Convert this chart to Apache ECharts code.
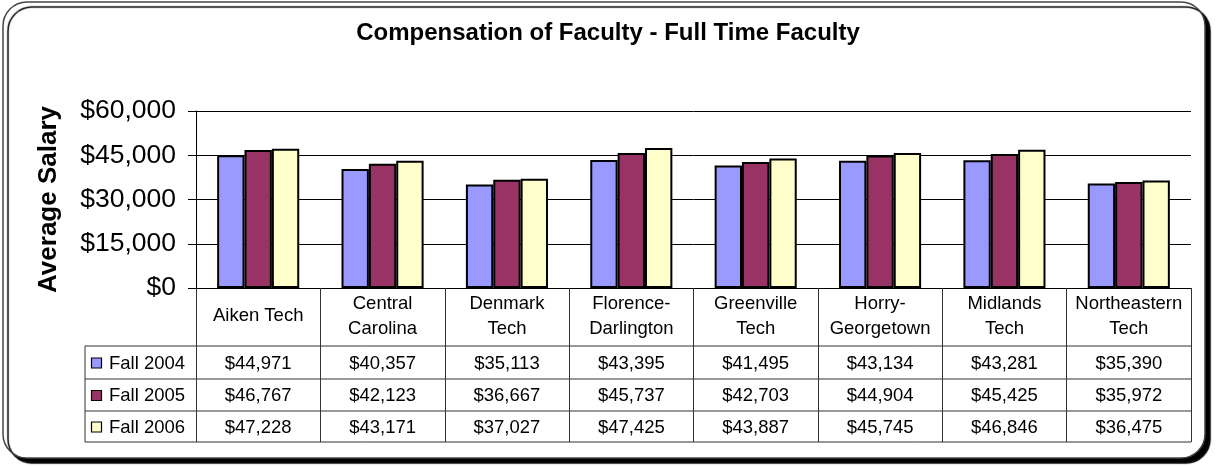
<!DOCTYPE html>
<html>
<head>
<meta charset="utf-8">
<script src="https://cdn.jsdelivr.net/npm/echarts@6/dist/echarts.min.js"></script>
<style>
html, body { margin: 0; padding: 0; background: #fff; }
#chart { width: 1216px; height: 467px; }
</style>
</head>
<body>
<div id="chart"></div>
<script>
// data
const categories = ['Aiken Tech', 'Central\nCarolina', 'Denmark\nTech', 'Florence-\nDarlington',
  'Greenville\nTech', 'Horry-\nGeorgetown', 'Midlands\nTech', 'Northeastern\nTech'];
const seriesNames = ['Fall 2004', 'Fall 2005', 'Fall 2006'];
const fall2004 = [44971, 40357, 35113, 43395, 41495, 43134, 43281, 35390];
const fall2005 = [46767, 42123, 36667, 45737, 42703, 44904, 45425, 35972];
const fall2006 = [47228, 43171, 37027, 47425, 43887, 45745, 46846, 36475];
const yTicks = [0, 15000, 30000, 45000, 60000];

const colors = ['#9999ff', '#993366', '#ffffcc'];
const font = 'Arial, "Liberation Sans", sans-serif';
const money = v => '$' + v.toLocaleString('en-US');

// table layout
const tableLeft = 85, tableRight = 1191;
const rowLines = [346, 379, 411, 442];

let myChart = echarts.init(document.getElementById('chart'));
let allData = [fall2004, fall2005, fall2006];

let option = {
  animation: false,
  textStyle: { fontFamily: font },
  title: {
    text: 'Compensation of Faculty - Full Time Faculty',
    left: 'center',
    top: 21,
    padding: 0,
    textStyle: { fontSize: 24, fontWeight: 'bold', color: '#000', fontFamily: font }
  },
  grid: { left: 196, right: 25, top: 111, bottom: 179, containLabel: false },
  xAxis: {
    type: 'category',
    data: categories,
    axisLine: { lineStyle: { color: '#000', width: 1 } },
    axisTick: { show: true, length: 154, lineStyle: { color: '#333' } },
    axisLabel: {
      interval: 0, margin: 28, verticalAlign: 'middle',
      fontSize: 18.5, lineHeight: 25, color: '#000', fontFamily: font
    }
  },
  yAxis: {
    type: 'value',
    min: yTicks[0],
    max: yTicks[yTicks.length - 1],
    interval: yTicks[1] - yTicks[0],
    name: 'Average Salary',
    nameLocation: 'middle',
    nameGap: 134,
    nameRotate: 90,
    nameTextStyle: { fontSize: 26, fontWeight: 'bold', color: '#000', fontFamily: font },
    axisLine: { show: true, lineStyle: { color: '#000' } },
    axisTick: { show: true, length: 8, lineStyle: { color: '#000' } },
    axisLabel: { formatter: money, fontSize: 26.5, margin: 20, color: '#000', fontFamily: font },
    splitLine: { lineStyle: { color: '#000', width: 1 } }
  },
  series: seriesNames.map((name, i) => ({
    name,
    type: 'bar',
    data: allData[i],
    barGap: '0%',
    barCategoryGap: '34%',
    itemStyle: { color: colors[i], borderColor: '#000', borderWidth: 2 }
  }))
};
myChart.setOption(option);

// the frame and the data table under the axis
let graphics = [];
graphics.push({
  type: 'rect', z: -10, silent: true,
  shape: { x: 3, y: 2, width: 1202, height: 456, r: 24 },
  style: { fill: '#fff', stroke: '#444', lineWidth: 1.5, shadowColor: '#000', shadowOffsetX: 5, shadowOffsetY: 5, shadowBlur: 1 }
});
rowLines.forEach(y => {
  graphics.push({ type: 'line', shape: { x1: tableLeft, y1: y, x2: tableRight, y2: y }, style: { stroke: '#333', lineWidth: 1 } });
});
graphics.push({ type: 'line', shape: { x1: tableLeft, y1: rowLines[0], x2: tableLeft, y2: rowLines[3] }, style: { stroke: '#333', lineWidth: 1 } });

seriesNames.forEach((name, i) => {
  let cy = (rowLines[i] + rowLines[i + 1]) / 2;
  graphics.push({
    type: 'rect', shape: { x: 91.5, y: cy - 4.5, width: 10, height: 10 },
    style: { fill: colors[i], stroke: '#000', lineWidth: 1.2 }
  });
  graphics.push({
    type: 'text', x: 109, y: cy + 1,
    style: { text: name, font: '18.5px ' + font, fill: '#000', verticalAlign: 'middle', align: 'left' }
  });
  allData[i].forEach((v, j) => {
    let cx = myChart.convertToPixel({ xAxisIndex: 0 }, j);
    graphics.push({
      type: 'text', x: cx, y: cy + 1,
      style: { text: money(v), font: '18.5px ' + font, fill: '#000', verticalAlign: 'middle', align: 'center' }
    });
  });
});
myChart.setOption({ graphic: graphics });
</script>
</body>
</html>
